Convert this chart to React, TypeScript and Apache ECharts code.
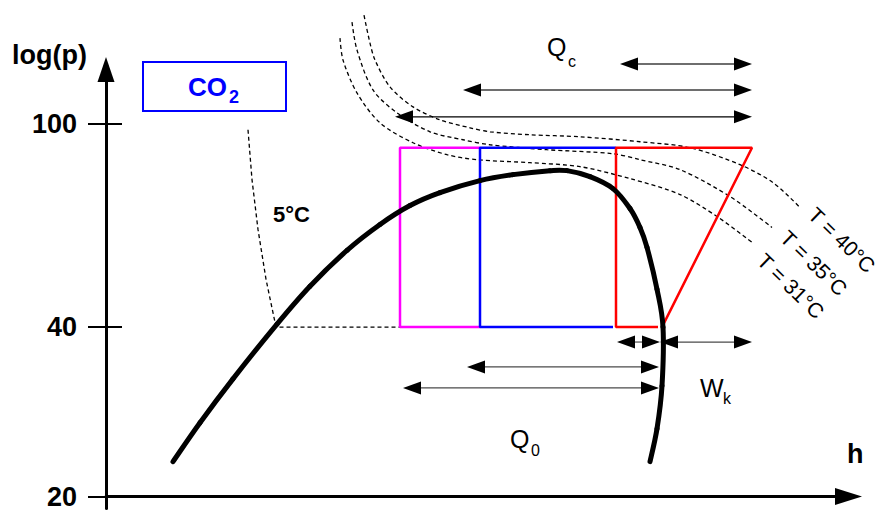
import React, { useEffect, useRef } from 'react';
import * as echarts from 'echarts';

// Axis ticks (y axis is a log(p) axis drawn in diagram units)
const yTickValues = [0, 170, 374];
const yTickLabels = ['20', '40', '100'];

// Saturation dome (h, log p units)
const domeH = [67, 94, 127, 171, 204, 241, 274, 304, 334, 374, 407, 444, 461, 484, 507, 524, 534, 541, 551, 557, 556, 551, 544];
const domeP = [35, 74, 118, 173, 211, 247, 273, 292, 305, 317, 323, 327, 327, 321, 309, 289, 270, 250, 208, 170, 111, 68, 35];

// Isotherm 5°C (evaporation)
const iso5H = [142, 146, 152, 160, 170, 294];
const iso5P = [368, 318, 268, 218, 170, 170];

// Supercritical isotherms
const iso40H = [258, 264, 269, 284, 307, 334, 364, 384, 424, 474, 534, 584, 634, 667, 694];
const iso40P = [483, 455, 438, 411, 391, 378, 370, 366, 363, 361, 356, 350, 333, 315, 290];
const iso35H = [246, 251, 267, 291, 324, 357, 384, 441, 507, 534, 574, 624, 666];
const iso35P = [476, 448, 408, 385, 366, 358, 353, 348, 344, 338, 328, 301, 270];
const iso31H = [234, 237, 251, 274, 307, 341, 371, 424, 474, 524, 574, 611, 646];
const iso31P = [460, 438, 405, 375, 355, 343, 338, 335, 331, 319, 303, 281, 255];

// Cycles
const magentaH = [374, 294, 294, 374];
const magentaP = [350, 350, 170, 170];
const blueH = [510, 374, 374, 507];
const blueP = [350, 350, 170, 170];
const redH = [552, 510, 510, 646, 556];
const redP = [170, 170, 350, 350, 170];

// Double arrows (from h, to h, level)
const arrowFrom = [514, 357, 289, 511, 554, 361, 297];
const arrowTo = [646, 646, 646, 554, 646, 553, 553];
const arrowLevel = [434, 408, 381, 155, 155, 130, 109];
const arrowColor = ['#6e6e6e', '#6e6e6e', '#000000', '#4a4a4a', '#4a4a4a', '#4a4a4a', '#4a4a4a'];
const arrowWidth = [2, 2, 1.3, 1.2, 1.2, 1.2, 1.2];

const zip = (a: number[], b: number[]) => a.map((v, i) => [v, b[i]]);

const lineSeries = (name: string, h: number[], p: number[], style: any, smooth: boolean | number) => ({
  name,
  type: 'line',
  data: zip(h, p),
  smooth,
  symbol: 'none',
  clip: false,
  silent: true,
  lineStyle: style,
  z: 3,
});

// Smooth curve through read points (Catmull-Rom drawn as bezier segments in pixel space)
const curveSeries = (name: string, h: number[], p: number[], style: any, z: number) => ({
  name,
  type: 'custom',
  clip: false,
  silent: true,
  z,
  encode: { x: 0, y: 1 },
  data: zip(h, p),
  renderItem: (params: any, api: any) => {
    if (params.dataIndex !== 0) return null;
    const pts = h.map((v, i) => api.coord([v, p[i]]));
    const n = pts.length;
    const children: any[] = [];
    for (let i = 0; i < n - 1; i++) {
      const p0 = pts[Math.max(0, i - 1)];
      const p1 = pts[i];
      const p2 = pts[i + 1];
      const p3 = pts[Math.min(n - 1, i + 2)];
      children.push({
        type: 'bezierCurve',
        shape: {
          x1: p1[0], y1: p1[1],
          cpx1: p1[0] + (p2[0] - p0[0]) / 6, cpy1: p1[1] + (p2[1] - p0[1]) / 6,
          cpx2: p2[0] - (p3[0] - p1[0]) / 6, cpy2: p2[1] - (p3[1] - p1[1]) / 6,
          x2: p2[0], y2: p2[1],
        },
        style: { fill: null, ...style },
      });
    }
    return { type: 'group', children };
  },
});

export default function App() {
  const ref = useRef<HTMLDivElement>(null);
  useEffect(() => {
    if (!ref.current) return;
    const chart = echarts.init(ref.current, null, { renderer: 'svg' });
    const dashed = { color: '#000', width: 1.3, type: [4, 3] };
    const tRot = (-44 * Math.PI) / 180;
    const font = 'Liberation Sans, Arial, sans-serif';
    const option: any = {
      animation: false,
      backgroundColor: '#fff',
      grid: { left: 106, right: 33.5, top: 69.5, bottom: 0, containLabel: false },
      xAxis: {
        type: 'value',
        min: 0,
        max: 742.5,
        axisLine: { show: true, onZero: true, symbol: ['none', 'triangle'], symbolSize: [17, 27], lineStyle: { color: '#000', width: 3 } },
        axisTick: { show: false },
        axisLabel: { show: false },
        splitLine: { show: false },
      },
      yAxis: [
        {
          type: 'value',
          min: -12,
          max: 428.5,
          axisLine: { show: true, symbol: ['none', 'triangle'], symbolSize: [17, 25], lineStyle: { color: '#000', width: 3 } },
          axisTick: { show: true, customValues: yTickValues, length: 18, inside: false, lineStyle: { color: '#000', width: 2 } },
          axisLabel: {
            show: true,
            customValues: yTickValues,
            margin: 29,
            fontSize: 27,
            fontWeight: 'bold',
            fontFamily: font,
            color: '#000',
            formatter: (v: number) => {
              const i = yTickValues.indexOf(Math.round(v));
              return i >= 0 ? yTickLabels[i] : '';
            },
          },
          splitLine: { show: false },
        },
        {
          type: 'value',
          min: -12,
          max: 428.5,
          position: 'left',
          axisLine: { show: false },
          axisTick: { show: true, customValues: yTickValues.slice(1), length: 16, inside: true, lineStyle: { color: '#000', width: 2 } },
          axisLabel: { show: false },
          splitLine: { show: false },
        },
      ],
      series: [
        lineSeries('5°C', iso5H, iso5P, dashed, false),
        lineSeries('T = 40°C', iso40H, iso40P, dashed, 0.3),
        lineSeries('T = 35°C', iso35H, iso35P, dashed, 0.3),
        lineSeries('T = 31°C', iso31H, iso31P, dashed, 0.3),
        lineSeries('magenta', magentaH, magentaP, { color: '#ff00ff', width: 2.5 }, false),
        lineSeries('blue', blueH, blueP, { color: '#0000ff', width: 2.5 }, false),
        lineSeries('red', redH, redP, { color: '#ff0000', width: 2.5 }, false),
        curveSeries('dome', domeH, domeP, { stroke: '#000', lineWidth: 5, lineCap: 'round', lineJoin: 'round' }, 4),
        {
          name: 'arrows',
          type: 'custom',
          clip: false,
          silent: true,
          z: 5,
          encode: { x: [0, 1], y: 2 },
          data: arrowFrom.map((f, i) => [f, arrowTo[i], arrowLevel[i]]),
          renderItem: (params: any, api: any) => {
            const i = params.dataIndex;
            const a = api.coord([api.value(0), api.value(2)]);
            const b = api.coord([api.value(1), api.value(2)]);
            const L = 18;
            const W = 6.5;
            return {
              type: 'group',
              children: [
                {
                  type: 'line',
                  shape: { x1: a[0] + L - 2, y1: a[1], x2: b[0] - L + 2, y2: b[1] },
                  style: { stroke: arrowColor[i], lineWidth: arrowWidth[i] },
                },
                {
                  type: 'polygon',
                  shape: { points: [[a[0], a[1]], [a[0] + L, a[1] - W], [a[0] + L, a[1] + W]] },
                  style: { fill: '#000' },
                },
                {
                  type: 'polygon',
                  shape: { points: [[b[0], b[1]], [b[0] - L, b[1] - W], [b[0] - L, b[1] + W]] },
                  style: { fill: '#000' },
                },
              ],
            };
          },
        },
      ],
      graphic: [
        { type: 'text', x: 12, y: 55, style: { text: 'log(p)', fontSize: 27, fontWeight: 'bold', fontFamily: font, fill: '#000', verticalAlign: 'middle' } },
        { type: 'text', x: 847, y: 454, style: { text: 'h', fontSize: 27, fontWeight: 'bold', fontFamily: font, fill: '#000', verticalAlign: 'middle' } },
        { type: 'rect', shape: { x: 143, y: 62, width: 143, height: 49 }, style: { fill: '#fff', stroke: '#0000ff', lineWidth: 2 }, z: 10 },
        { type: 'text', x: 188, y: 87, z: 11, style: { text: 'CO', fontSize: 26, fontWeight: 'bold', fontFamily: font, fill: '#0000ff', verticalAlign: 'middle' } },
        { type: 'text', x: 229, y: 97, z: 11, style: { text: '2', fontSize: 18, fontWeight: 'bold', fontFamily: font, fill: '#0000ff', verticalAlign: 'middle' } },
        { type: 'text', x: 273, y: 214, style: { text: '5°C', fontSize: 22, fontWeight: 'bold', fontFamily: font, fill: '#000', verticalAlign: 'middle' } },
        { type: 'text', x: 547, y: 47, style: { text: 'Q', fontSize: 25, fontFamily: font, fill: '#000', verticalAlign: 'middle' } },
        { type: 'text', x: 568, y: 61, style: { text: 'c', fontSize: 16, fontFamily: font, fill: '#000', verticalAlign: 'middle' } },
        { type: 'text', x: 510, y: 439, style: { text: 'Q', fontSize: 25, fontFamily: font, fill: '#000', verticalAlign: 'middle' } },
        { type: 'text', x: 531, y: 450, style: { text: '0', fontSize: 16, fontFamily: font, fill: '#000', verticalAlign: 'middle' } },
        { type: 'text', x: 700, y: 388, style: { text: 'W', fontSize: 25, fontFamily: font, fill: '#000', verticalAlign: 'middle' } },
        { type: 'text', x: 723, y: 398, style: { text: 'k', fontSize: 16, fontFamily: font, fill: '#000', verticalAlign: 'middle' } },
        { type: 'text', x: 842, y: 240, rotation: tRot, style: { text: 'T = 40°C', fontSize: 21, fontFamily: font, fill: '#000', align: 'center', verticalAlign: 'middle' } },
        { type: 'text', x: 814, y: 263, rotation: tRot, style: { text: 'T = 35°C', fontSize: 21, fontFamily: font, fill: '#000', align: 'center', verticalAlign: 'middle' } },
        { type: 'text', x: 791, y: 286, rotation: tRot, style: { text: 'T = 31°C', fontSize: 21, fontFamily: font, fill: '#000', align: 'center', verticalAlign: 'middle' } },
      ],
    };
    chart.setOption(option);
    return () => chart.dispose();
  }, []);
  return <div ref={ref} style={{ position: 'fixed', left: 0, top: 0, width: 882, height: 510, background: '#fff' }} />;
}
